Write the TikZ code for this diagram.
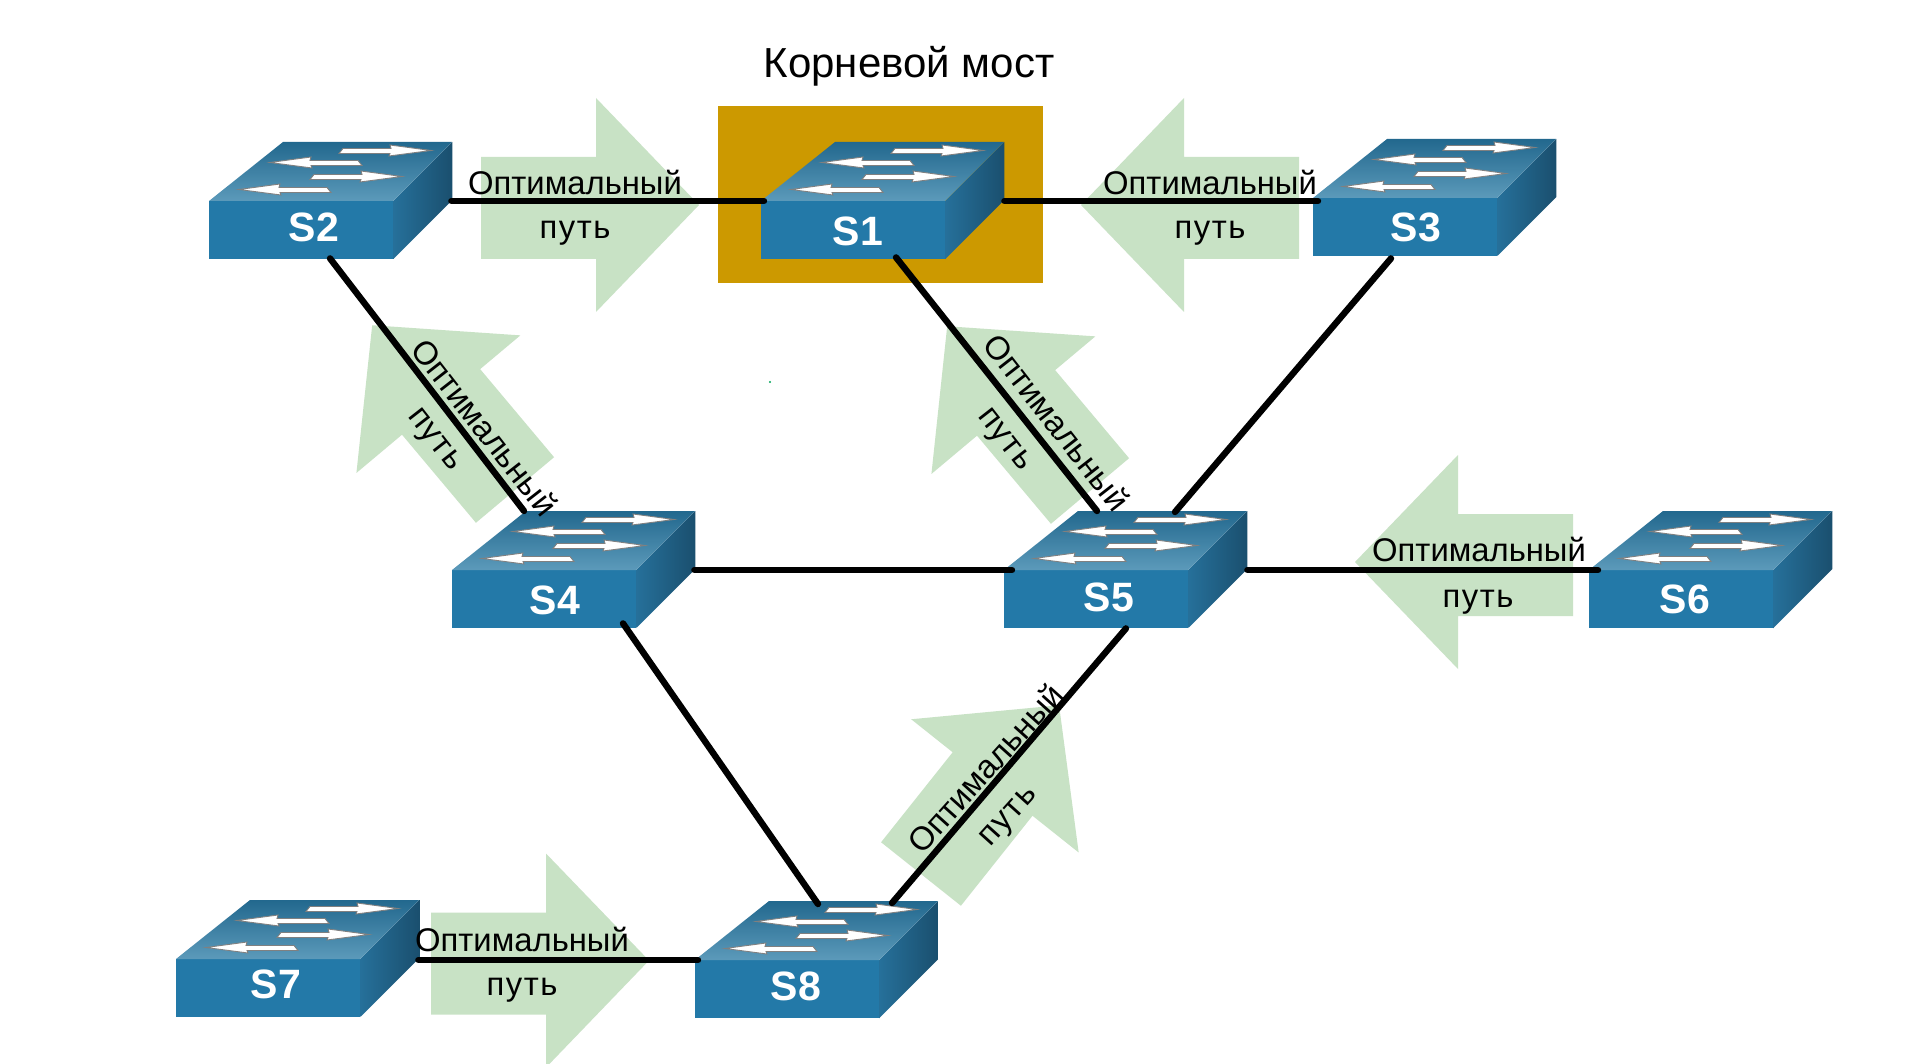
\documentclass[tikz,border=0pt]{standalone}
\usepackage{fontspec}
\setmainfont{Liberation Sans}
\usetikzlibrary{calc}
\definecolor{swfront}{RGB}{35,121,168}
\definecolor{swback}{RGB}{34,104,142}
\definecolor{swlight}{RGB}{92,154,186}
\definecolor{swside}{RGB}{38,112,154}
\definecolor{swdark}{RGB}{26,79,110}
\definecolor{pathgreen}{RGB}{200,226,197}
\definecolor{rootgold}{RGB}{204,153,0}
\tikzset{
    swbox/.style={draw=none,fill=swfront,inner sep=0pt,minimum width=184pt,minimum height=58pt,anchor=north west},
    swlabel/.style={text=white,font=\fontsize{41}{41}\selectfont\bfseries,anchor=base,inner sep=0pt},
    swarrow/.style={fill=white,draw=gray,line width=0.9pt,line join=miter},
    link/.style={line width=6.4pt,line cap=round,black},
    pathtext/.style={font=\fontsize{32.8}{33}\selectfont,inner sep=0pt,text=black},
    pathword/.style={font=\fontsize{32.8}{33}\selectfont\addfontfeature{LetterSpace=4.5},inner sep=0pt,text=black},
}
% one switch: name, corner of the front face, label, label position
\newcommand{\switch}[4]{
    \node[swbox] (#1) at (#2) {};
    \shade[top color=swback,bottom color=swlight] (#1.north west) -- ++(74,-59) -- ++(169,0) -- ++(-59,59) -- cycle;
    \shade[left color=swside,right color=swdark] (#1.north east) -- ++(59,-59) -- ++(0,58) -- ++(-59,59) -- cycle;
    \foreach \dx/\dy/\sx in {130/-50/1,153/-38/-1,101/-24/1,122/-11/-1}{
        \filldraw[swarrow,shift={($(#1.north west)+(\dx,\dy)$)},xscale=\sx]
            (0,2.5) -- (4,-2.5) -- (52,-2.5) -- (51,-6) -- (92,-0.5) -- (50,5) -- (51,2.5) -- cycle;
    }
    \node[swlabel] (#1label) at ($(#1.north west)+(#4)$) {#3};
}
% green arrow: shaft tail centre, direction, sideways offset of the head
\newcommand{\patharrow}[3]{
    \fill[pathgreen,shift={(#1)},rotate=#2] (0,-51) -- (115,-51) -- (115,#3-107) -- (218,#3) -- (115,#3+107) -- (115,51) -- (0,51) -- cycle;
}
\begin{document}
\begin{tikzpicture}[x=1pt,y=-1pt]
    \useasboundingbox (0,0) rectangle (1920,1064);
    \fill[white] (0,0) rectangle (1920,1064);
    \fill[rootgold] (718,106) rectangle (1043,283);
    \node[font=\fontsize{42}{42}\selectfont,anchor=base,inner sep=0pt] (title) at (909,78) {Корневой мост};

    \patharrow{481,208}{0}{-3}
    \patharrow{1299,208}{180}{3}
    \patharrow{515,490}{130}{-3.5}
    \patharrow{1090,491}{130}{-3.5}
    \patharrow{1573,565}{180}{3}
    \patharrow{921,874}{51.5}{3}
    \patharrow{431,963.5}{0}{-3}
    \fill[teal!70!green] (770,382) circle (1.2);

    \switch{s2}{209,201}{S2}{105,41}
    \switch{s1}{761,201}{S1}{97,45}
    \switch{s3}{1313,198}{S3}{103,44}
    \switch{s4}{452,570}{S4}{103,44}
    \switch{s5}{1004,570}{S5}{105,41}
    \switch{s6}{1589,570}{S6}{96,43}
    \switch{s7}{176,959}{S7}{100,39}
    \switch{s8}{695,960}{S8}{101,40}

    \draw[link] ($(s2.north east)+(58,0)$) -- ($(s1.north west)+(3,0)$);
    \draw[link] ($(s1.north east)+(59,0)$) -- ($(s3.north west)+(5,3)$);
    \draw[link] ($(s2.south west)+(121,-1)$) -- ($(s4.north west)+(72,-59)$);
    \draw[link] ($(s1.south west)+(135,-2)$) -- ($(s5.north west)+(93,-59)$);
    \draw[link] ($(s3.south west)+(78,2)$) -- ($(s5.north west)+(171,-58)$);
    \draw[link] ($(s4.north east)+(58,0)$) -- ($(s5.north west)+(8,0)$);
    \draw[link] ($(s5.north east)+(59,0)$) -- ($(s6.north west)+(9,0)$);
    \draw[link] ($(s4.south west)+(171,-5)$) -- ($(s8.north west)+(123,-56)$);
    \draw[link] ($(s5.south west)+(122,0)$) -- ($(s8.north west)+(197,-57)$);
    \draw[link] ($(s7.north east)+(58,1)$) -- ($(s8.north west)+(3,0)$);

    \node[pathtext,anchor=base] (a1top) at (575,195) {Оптимальный};
    \node[pathword,anchor=base] (a1bot) at (575,239) {путь};
    \node[pathtext,anchor=base] (a2top) at (1210,195) {Оптимальный};
    \node[pathword,anchor=base] (a2bot) at (1210,239) {путь};
    \node[pathtext,rotate=-52] (a3top) at (485,427) {Оптимальный};
    \node[pathword,rotate=-52] (a3bot) at (433,441) {путь};
    \node[pathtext,rotate=-52] (a4top) at (1057,422) {Оптимальный};
    \node[pathword,rotate=-52] (a4bot) at (1003,441) {путь};
    \node[pathtext,anchor=base] (a5top) at (1479,561) {Оптимальный};
    \node[pathword,anchor=base] (a5bot) at (1478,607) {путь};
    \node[pathtext,rotate=48] (a6top) at (985,768) {Оптимальный};
    \node[pathword,rotate=48] (a6bot) at (1010,818) {путь};
    \node[pathtext,anchor=base] (a7top) at (522,951) {Оптимальный};
    \node[pathword,anchor=base] (a7bot) at (522,995) {путь};
\end{tikzpicture}
\end{document}
